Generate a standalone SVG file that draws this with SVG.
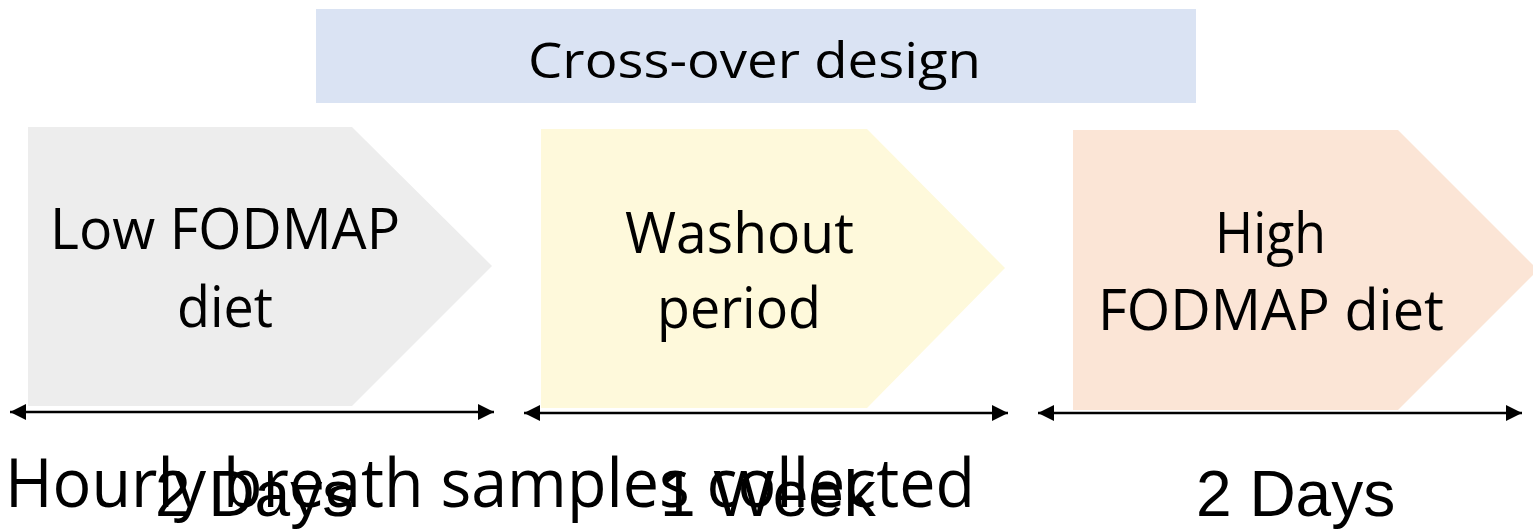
<svg xmlns="http://www.w3.org/2000/svg" width="1533" height="530" viewBox="0 0 1533 530">
  <style>
    .label { font-family: "Open Sans", "Noto Sans", sans-serif; fill: #000; }
    .dur { font-family: "Liberation Sans", Arial, sans-serif; font-size: 64px; fill: #000; }
    .span { stroke: #000; stroke-width: 2.5; fill: none; marker-start: url(#head-start); marker-end: url(#head-end); }
  </style>
  <defs>
    <marker id="head-end" markerUnits="userSpaceOnUse" markerWidth="17" markerHeight="17" refX="16" refY="8.5" orient="auto" viewBox="0 0 17 17">
      <path d="M0,0.5 L16,8.5 L0,16.5 Z" fill="#000"/>
    </marker>
    <marker id="head-start" markerUnits="userSpaceOnUse" markerWidth="17" markerHeight="17" refX="1" refY="8.5" orient="auto" viewBox="0 0 17 17">
      <path d="M17,0.5 L1,8.5 L17,16.5 Z" fill="#000"/>
    </marker>
  </defs>
  <rect width="1533" height="530" fill="#fff"/>

  <!-- title banner -->
  <g id="banner">
    <rect x="316" y="9" width="880" height="94" fill="#DAE3F3"/>
    <text class="label" x="528" y="78" font-size="50" textLength="453" lengthAdjust="spacingAndGlyphs">Cross-over design</text>
  </g>

  <!-- phase 1 -->
  <g id="phase-low">
    <polygon points="28,127 352,127 492,266 352,406 28,406" fill="#EDEDED"/>
    <text class="label" x="50" y="249" font-size="56" textLength="350" lengthAdjust="spacingAndGlyphs">Low FODMAP</text>
    <text class="label" x="177" y="327" font-size="56" textLength="96" lengthAdjust="spacingAndGlyphs">diet</text>
  </g>

  <!-- phase 2 -->
  <g id="phase-washout">
    <polygon points="541,129 867,129 1005,268 867,408 541,408" fill="#FEF9DB"/>
    <text class="label" x="625" y="253" font-size="56" textLength="229" lengthAdjust="spacingAndGlyphs">Washout</text>
    <text class="label" x="657" y="328" font-size="56" textLength="164" lengthAdjust="spacingAndGlyphs">period</text>
  </g>

  <!-- phase 3 -->
  <g id="phase-high">
    <polygon points="1073,130 1398,130 1538,270 1398,410 1073,410" fill="#FBE5D6"/>
    <text class="label" x="1215" y="253" font-size="56" textLength="111" lengthAdjust="spacingAndGlyphs">High</text>
    <text class="label" x="1098" y="330" font-size="56" textLength="346" lengthAdjust="spacingAndGlyphs">FODMAP diet</text>
  </g>

  <!-- duration spans -->
  <g id="connectors">
    <line class="span" x1="10" y1="412" x2="494" y2="412"/>
    <line class="span" x1="524" y1="413" x2="1008" y2="413"/>
    <line class="span" x1="1038" y1="413" x2="1522" y2="413"/>
  </g>

  <!-- duration labels -->
  <g id="durations">
    <text class="dur" x="155" y="516">2 Days</text>
    <text class="dur" x="660" y="516">1 Week</text>
    <text class="dur" x="1196" y="516">2 Days</text>
  </g>

  <g id="sampling-note">
    <text class="label" x="5" y="507" font-size="67" textLength="970" lengthAdjust="spacingAndGlyphs">Hourly breath samples collected</text>
  </g>
</svg>
